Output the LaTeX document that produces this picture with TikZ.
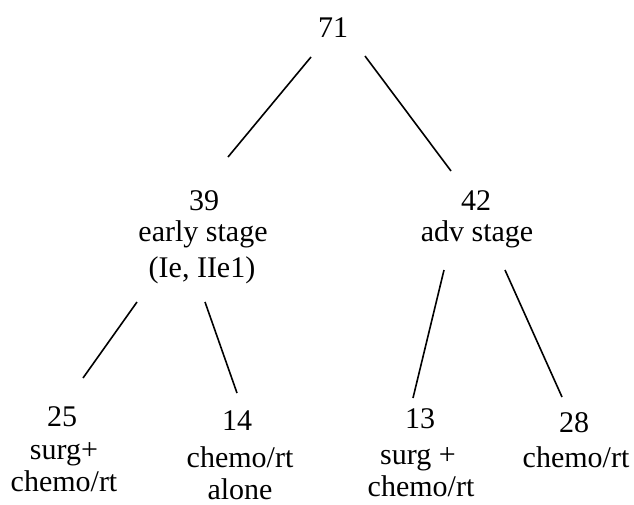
\documentclass[tikz,border=0pt]{standalone}
\usepackage{fontspec}
\setmainfont{Liberation Serif}
\begin{document}
\begin{tikzpicture}[x=1pt,y=-1pt,
  lbl/.style={anchor=base,inner sep=0pt,font=\fontsize{30}{36}\selectfont},
  edge/.style={line width=1.6pt,black}]
\useasboundingbox (0,0) rectangle (634,504);
% top
\node[lbl] (n71) at (333,37) {71};
% middle
\node[lbl] (n39) at (204,210) {39};
\node[lbl] (n39a) at (203,241) {early stage};
\node[lbl] (n39b) at (202,277) {(Ie, IIe1)};
\node[lbl] (n42) at (476,210) {42};
\node[lbl] (n42a) at (477,241) {adv stage};
% bottom
\node[lbl] (n25) at (62,426) {25};
\node[lbl] (n25a) at (64,459) {surg+};
\node[lbl] (n25b) at (64,491) {chemo/rt};
\node[lbl] (n14) at (237,430) {14};
\node[lbl] (n14a) at (240,467) {chemo/rt};
\node[lbl] (n14b) at (240,499) {alone};
\node[lbl] (n13) at (420,428) {13};
\node[lbl] (n13a) at (418,464) {surg +};
\node[lbl] (n13b) at (421,496) {chemo/rt};
\node[lbl] (n28) at (574,432) {28};
\node[lbl] (n28a) at (576,467) {chemo/rt};
% connector ends
\coordinate (a1) at (311,57);  \coordinate (b1) at (228,157);
\coordinate (a2) at (365,56);  \coordinate (b2) at (451,171);
\coordinate (a3) at (137,302); \coordinate (b3) at (83,378);
\coordinate (a4) at (205,302); \coordinate (b4) at (237,393);
\coordinate (a5) at (444,270); \coordinate (b5) at (413,398);
\coordinate (a6) at (505,270); \coordinate (b6) at (562,397);
\draw[edge] (a1) -- (b1);
\draw[edge] (a2) -- (b2);
\draw[edge] (a3) -- (b3);
\draw[edge] (a4) -- (b4);
\draw[edge] (a5) -- (b5);
\draw[edge] (a6) -- (b6);
\end{tikzpicture}
\end{document}
